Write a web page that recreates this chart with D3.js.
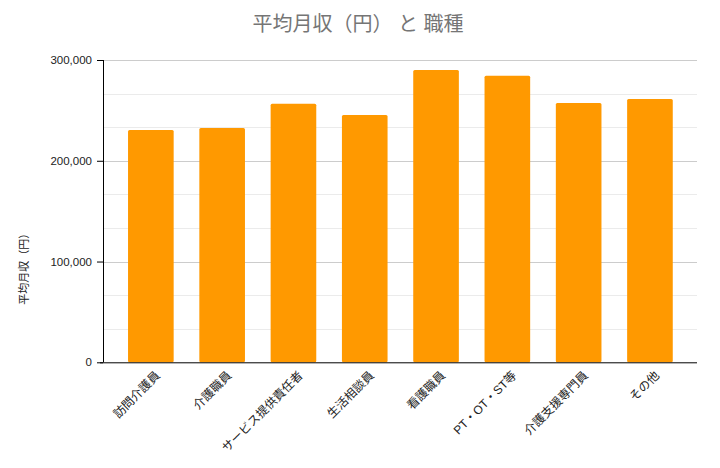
<!DOCTYPE html>
<html><head><meta charset="utf-8">
<script src="https://cdn.jsdelivr.net/npm/d3@7"></script>
<style>
body{margin:0;background:#fff;}
text{font-family:"Liberation Sans","Noto Sans CJK JP",Arial,sans-serif;}
</style></head>
<body><svg id="c" width="720" height="468"></svg>
<script>
const categories = ["訪問介護員","介護職員","サービス提供責任者","生活相談員","看護職員","PT・OT・ST等","介護支援専門員","その他"];
const values = [230500, 232500, 256600, 245400, 290100, 284400, 257300, 261300];
const yTicks = [0, 100000, 200000, 300000];
const titleText = "平均月収（円） と 職種";
const yTitle = "平均月収（円）";

(function(){
const svg = d3.select("#c");
const pLeft = 103, pRight = 697, pTop = 60, pBottom = 362.3;
const y = d3.scaleLinear().domain([0, 300000]).range([pBottom, pTop]);
const x = d3.scaleBand().domain(categories).range([115.2, 685.6]).paddingInner(0.36).paddingOuter(0.18);

// minor gridlines
const minor = d3.range(0, 300001, 100000/3).filter((d,i)=> i % 3 !== 0);
svg.append("g").selectAll("line").data(minor).join("line")
  .attr("x1", pLeft).attr("x2", pRight)
  .attr("y1", d=>Math.round(y(d))+0.5).attr("y2", d=>Math.round(y(d))+0.5)
  .attr("stroke", "#ebebeb").attr("stroke-width", 1);
// major gridlines
svg.append("g").selectAll("line").data(yTicks.slice(1)).join("line")
  .attr("x1", pLeft).attr("x2", pRight)
  .attr("y1", d=>Math.round(y(d))+0.5).attr("y2", d=>Math.round(y(d))+0.5)
  .attr("stroke", "#cccccc").attr("stroke-width", 1);

// bars
svg.append("g").selectAll("rect").data(values).join("rect")
  .attr("x", (d,i)=>x(categories[i]))
  .attr("width", x.bandwidth())
  .attr("y", d=>y(d))
  .attr("height", d=>pBottom - y(d))
  .attr("rx", 1.5)
  .attr("fill", "#ff9900");

// y axis
const yAxis = d3.axisLeft(y).tickValues(yTicks).tickFormat(d3.format(",")).tickSize(6).tickPadding(5);
const gy = svg.append("g").attr("transform", `translate(${pLeft},0)`).call(yAxis);
gy.select(".domain").attr("stroke", "#000").attr("d", `M0.5,${pTop}V${pBottom}`);
gy.selectAll(".tick line").attr("stroke", "#000");
gy.selectAll(".tick text").attr("font-size", 11.5).attr("fill", "#222")
  .style("font-family", '"Liberation Sans",Arial,sans-serif');

// x axis
const xAxis = d3.axisBottom(x).tickSize(0).tickPadding(0);
const gx = svg.append("g").attr("transform", `translate(0,${pBottom})`).call(xAxis);
gx.select(".domain").attr("stroke", "#000").attr("d", `M${pLeft-3},0.5H${pRight}`);
gx.selectAll(".tick text")
  .attr("font-size", 12).attr("fill", "#222")
  .attr("text-anchor", "end")
  .attr("transform", "translate(7,11) rotate(-45)")
  .attr("y", 0).attr("dy", "0.35em");

// title
svg.append("text").attr("x", 358).attr("y", 31).attr("text-anchor", "middle")
  .attr("font-size", 20).attr("fill", "#757575").text(titleText);

// y title
svg.append("text").attr("transform", `translate(28,${(pTop+pBottom)/2+55}) rotate(-90)`)
  .attr("text-anchor", "middle").attr("font-size", 11).attr("fill", "#222").text(yTitle);
})();
</script></body></html>
